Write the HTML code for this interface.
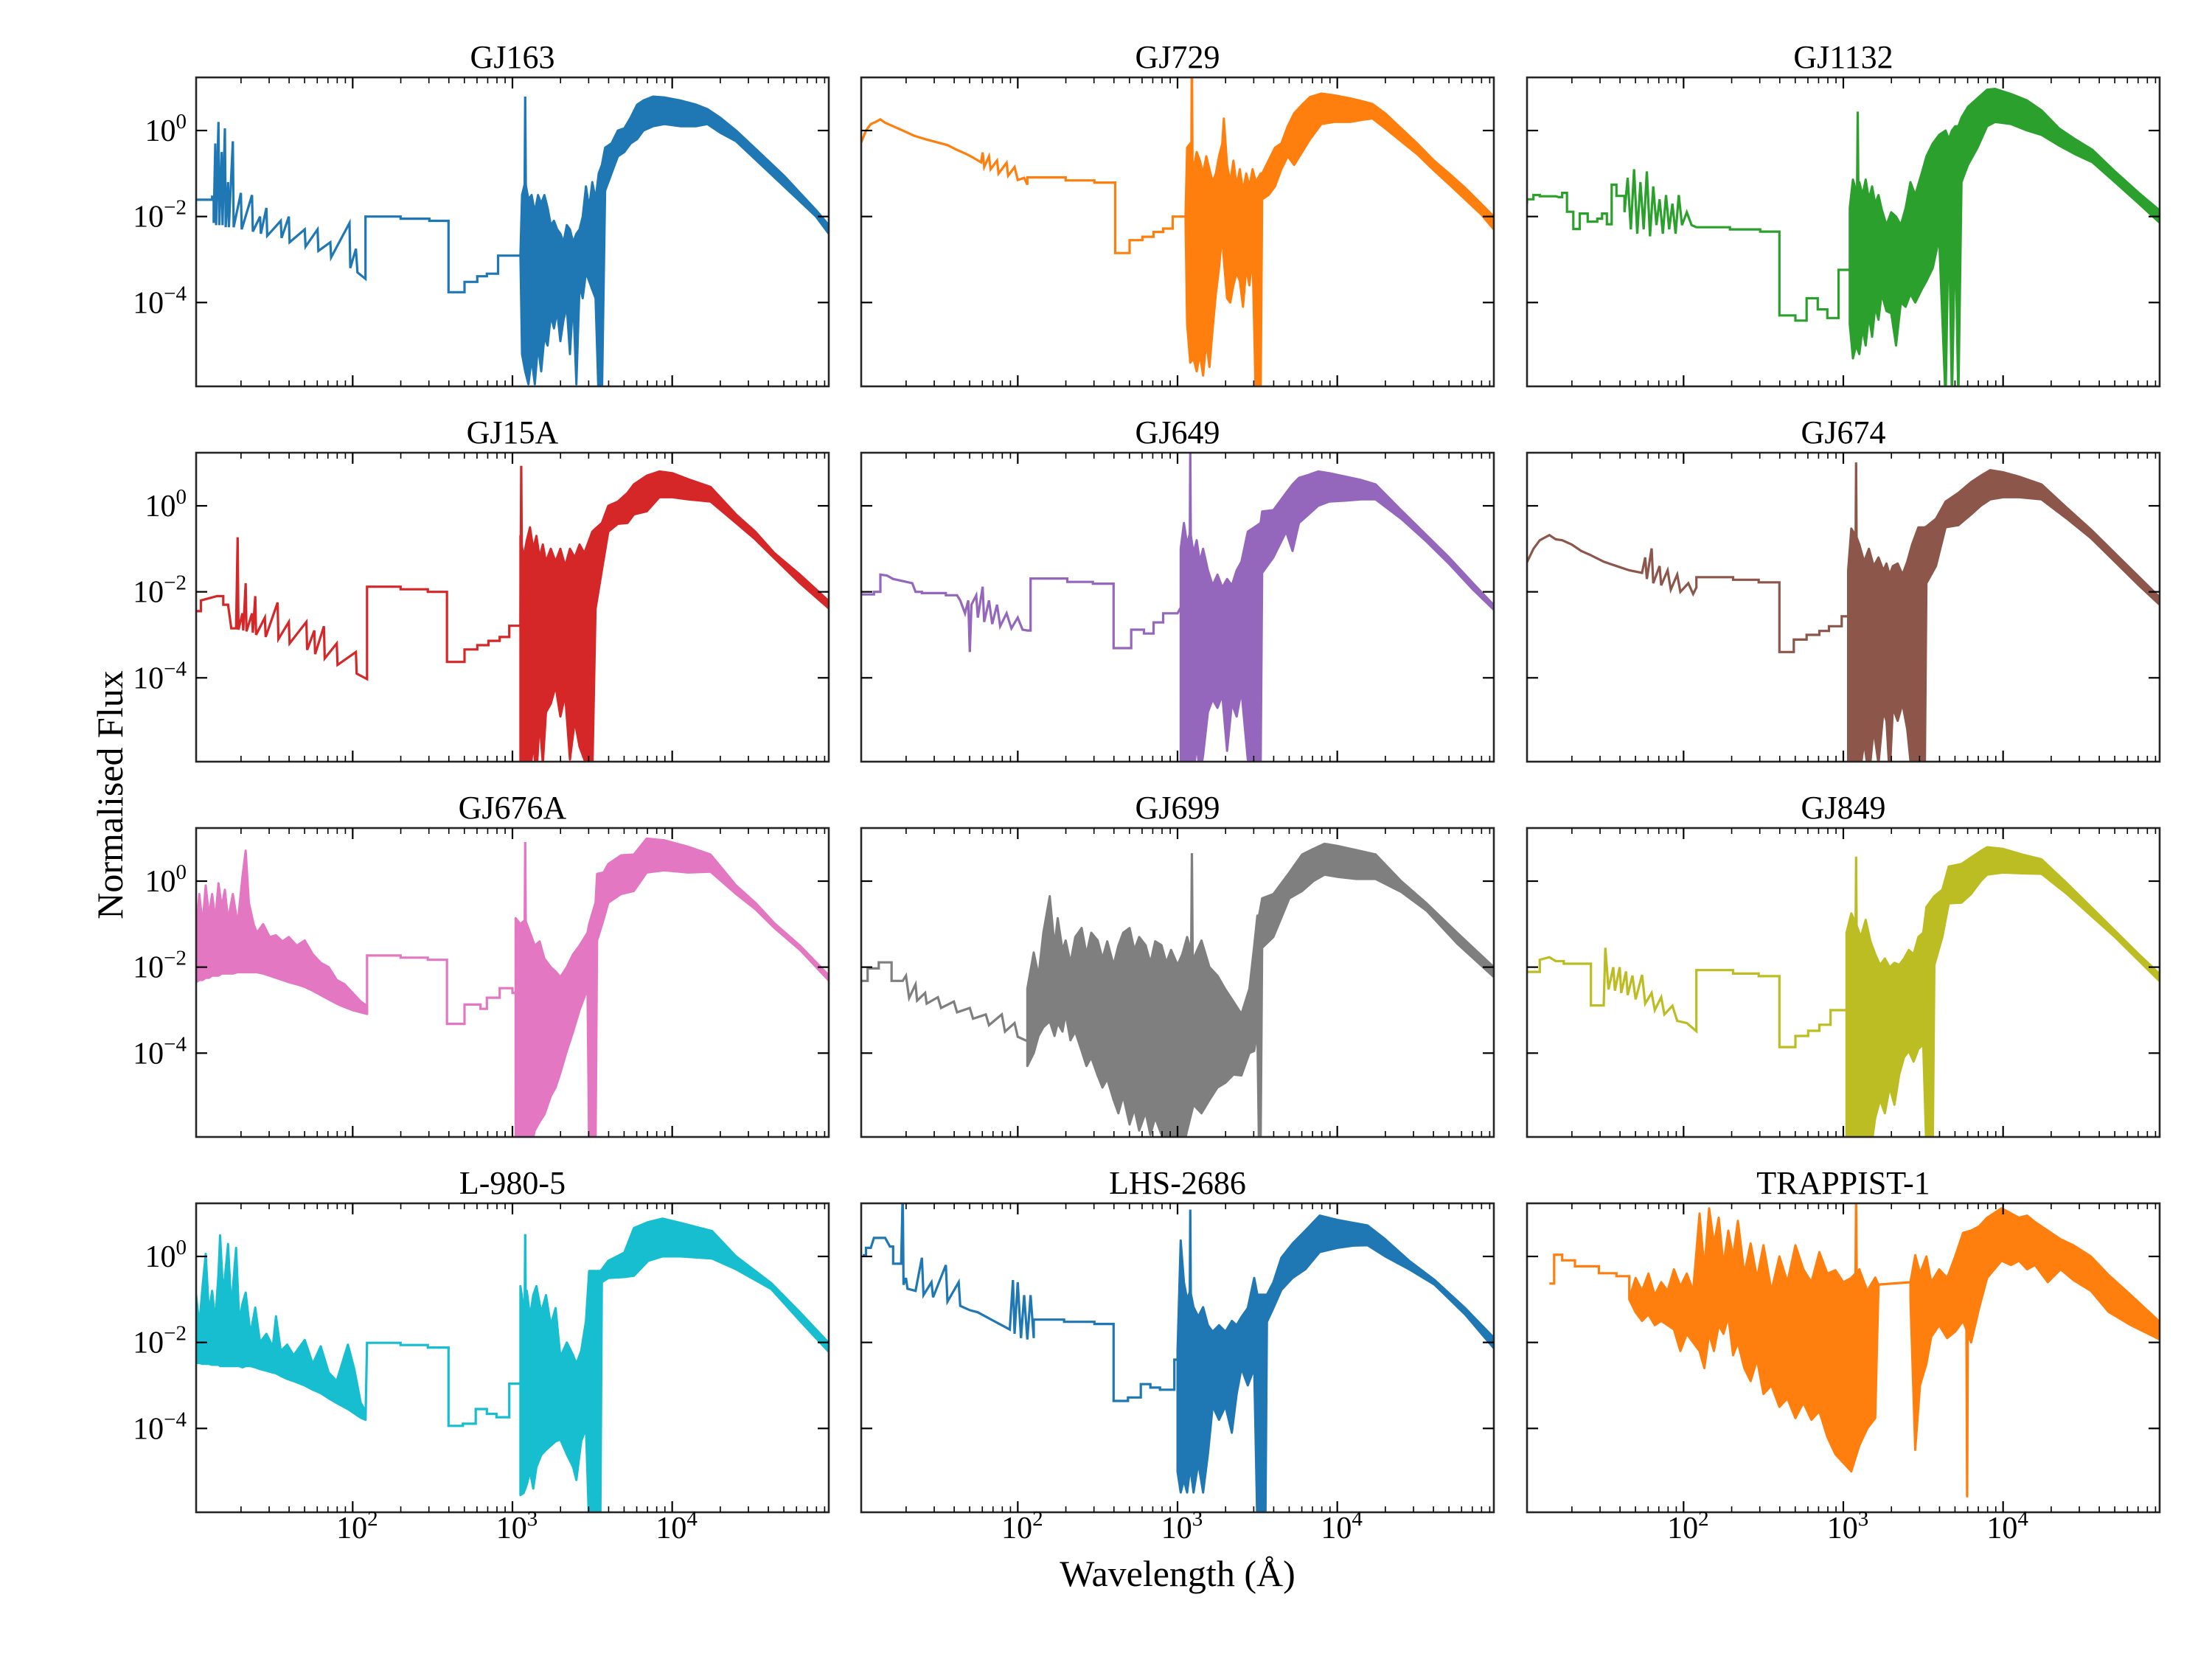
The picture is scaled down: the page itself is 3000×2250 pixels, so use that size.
<!DOCTYPE html>
<html><head><meta charset="utf-8"><title>Normalised stellar spectra</title>
<style>
html,body{margin:0;padding:0;background:#fff;}
svg{display:block;font-family:"Liberation Serif","DejaVu Serif",serif;}
</style></head>
<body>
<svg id="fig" width="3000" height="2250" viewBox="0 0 3000 2250" xmlns="http://www.w3.org/2000/svg">
<rect x="0" y="0" width="3000" height="2250" fill="#fff"/>
<text x="1597" y="2151" font-size="50" text-anchor="middle">Wavelength (Å)</text>
<text x="0" y="0" font-size="50" text-anchor="middle" transform="translate(166,1078) rotate(-90)">Normalised Flux</text>
</svg>
<script>
// ---- data: log10(wavelength / Å), log10(normalised flux) ----
const starNames = ["GJ163","GJ729","GJ1132","GJ15A","GJ649","GJ674","GJ676A","GJ699","GJ849","L-980-5","LHS-2686","TRAPPIST-1"];
const starColors = ["#1f77b4","#ff7f0e","#2ca02c","#d62728","#9467bd","#8c564b","#e377c2","#7f7f7f","#bcbd22","#17becf","#1f77b4","#ff7f0e"];
const xTickLabels = ["2","3","4"];
const yTickLabels = ["0","\u22122","\u22124"];
const yTickValues = [0,-2,-4];
const xTickValues = [2,3,4];

const gj163Line = [[1.02,-1.61],[1.12,-1.61],[1.12,-1.54],[1.13,-1.54],[1.13,-2.15],[1.14,-0.3],[1.145,-2.2],[1.16,0.2],[1.165,-2.2],[1.18,-0.5],[1.185,-2.2],[1.2,0.05],[1.205,-2.25],[1.22,-1.2],[1.225,-2.25],[1.25,-0.25],[1.255,-2.25],[1.3,-1.45],[1.305,-2.3],[1.37,-1.5],[1.375,-2.35],[1.42,-2.0],[1.425,-2.4],[1.46,-1.8],[1.465,-2.45],[1.55,-2.1],[1.555,-2.5],[1.6,-2.0],[1.605,-2.6],[1.7,-2.3],[1.705,-2.7],[1.78,-2.3],[1.785,-2.8],[1.86,-2.6],[1.865,-2.95],[1.98,-2.15],[1.985,-3.2],[2.02,-2.75],[2.03,-3.3],[2.08,-3.45],[2.08,-2.0],[2.3,-2.0],[2.3,-2.05],[2.48,-2.05],[2.48,-2.1],[2.6,-2.1],[2.6,-3.76],[2.7,-3.76],[2.7,-3.52],[2.78,-3.52],[2.78,-3.39],[2.84,-3.39],[2.84,-3.33],[2.91,-3.33],[2.91,-2.91],[3.05,-2.91],[3.075,-2],[3.08,0.79],[3.085,-2]];
const gj163Dense = [[3.05,-2.9,-2.9],[3.06,-1.5,-5.2],[3.08,-1.2,-5.6],[3.1,-1.6,-5.9],[3.12,-1.5,-5.3],[3.14,-1.9,-5.9],[3.16,-1.5,-5.0],[3.18,-1.7,-5.6],[3.2,-1.5,-4.8],[3.22,-1.8,-5.0],[3.24,-2.2,-4.3],[3.26,-2.1,-4.6],[3.28,-2.3,-4.2],[3.3,-2.4,-4.9],[3.32,-2.6,-4.4],[3.34,-2.2,-4.1],[3.36,-2.3,-5.2],[3.38,-2.6,-3.9],[3.4,-2.4,-5.9],[3.42,-2.3,-3.6],[3.44,-2.0,-3.9],[3.46,-1.3,-3.3],[3.48,-1.8,-3.5],[3.5,-1.2,-3.7],[3.52,-1.6,-3.9],[3.54,-1.0,-6.3],[3.56,-0.8,-6.3],[3.58,-0.4,-1.4],[3.62,-0.3,-1.0],[3.66,0.0,-0.6],[3.7,0.05,-0.5],[3.74,0.3,-0.3],[3.78,0.6,-0.2],[3.82,0.7,0.0],[3.88,0.79,0.1],[3.95,0.77,0.15],[4.05,0.7,0.1],[4.15,0.6,0.1],[4.22,0.5,0.15],[4.3,0.3,-0.05],[4.4,0.0,-0.25],[4.5,-0.35,-0.6],[4.6,-0.7,-0.95],[4.7,-1.05,-1.3],[4.8,-1.45,-1.65],[4.9,-1.85,-2.0],[4.98,-2.2,-2.4]];

const gj729Line = [[1.02,-0.28],[1.05,0.0],[1.08,0.15],[1.11,0.2],[1.14,0.26],[1.17,0.18],[1.22,0.1],[1.28,0.0],[1.35,-0.12],[1.42,-0.2],[1.5,-0.28],[1.56,-0.34],[1.62,-0.45],[1.68,-0.55],[1.73,-0.65],[1.77,-0.74],[1.78,-0.51],[1.79,-0.85],[1.82,-0.6],[1.83,-0.9],[1.87,-0.7],[1.88,-1.0],[1.93,-0.75],[1.94,-1.05],[1.98,-0.85],[2.0,-1.15],[2.04,-1.1],[2.06,-1.26],[2.06,-1.09],[2.3,-1.09],[2.3,-1.16],[2.48,-1.16],[2.48,-1.21],[2.61,-1.21],[2.61,-2.85],[2.7,-2.85],[2.7,-2.55],[2.78,-2.55],[2.78,-2.47],[2.85,-2.47],[2.85,-2.36],[2.91,-2.36],[2.91,-2.28],[2.97,-2.28],[2.97,-2.0],[3.05,-2.0],[3.085,-2],[3.09,2],[3.095,-2]];
const gj729Dense = [[3.05,-2.0,-2.0],[3.06,-0.4,-4.5],[3.08,-0.3,-5.4],[3.1,-0.9,-5.3],[3.12,-0.5,-5.6],[3.14,-0.7,-5.2],[3.16,-1.0,-5.7],[3.18,-0.6,-4.9],[3.2,-0.9,-5.5],[3.22,-1.2,-4.6],[3.24,-1.0,-3.8],[3.26,-0.6,-3.2],[3.28,-0.3,-2.4],[3.29,0.28,-3.0],[3.31,-0.8,-3.9],[3.33,-1.2,-4.0],[3.35,-0.7,-3.6],[3.37,-1.3,-3.3],[3.39,-0.9,-3.5],[3.41,-1.4,-4.1],[3.43,-1.0,-3.2],[3.45,-1.3,-3.6],[3.47,-0.9,-2.9],[3.49,-1.2,-6.3],[3.52,-1.0,-6.3],[3.53,-1.0,-1.6],[3.57,-0.7,-1.5],[3.61,-0.4,-1.3],[3.65,-0.3,-0.9],[3.69,0.1,-0.6],[3.73,0.4,-0.8],[3.78,0.6,-0.5],[3.83,0.78,-0.2],[3.9,0.86,0.15],[3.98,0.82,0.2],[4.08,0.75,0.2],[4.16,0.68,0.25],[4.22,0.62,0.28],[4.3,0.4,0.05],[4.4,0.05,-0.25],[4.5,-0.3,-0.55],[4.6,-0.68,-0.91],[4.7,-1.0,-1.25],[4.8,-1.33,-1.6],[4.9,-1.7,-1.95],[4.98,-2.0,-2.3]];

const gj1132Line = [[1.02,-1.7],[1.02,-1.6],[1.06,-1.6],[1.06,-1.5],[1.1,-1.5],[1.1,-1.53],[1.2,-1.53],[1.22,-1.55],[1.24,-1.55],[1.24,-1.45],[1.27,-1.45],[1.27,-1.89],[1.31,-1.89],[1.31,-2.29],[1.35,-2.29],[1.35,-1.93],[1.4,-1.93],[1.4,-2.12],[1.46,-2.12],[1.46,-2.05],[1.49,-2.05],[1.49,-1.93],[1.52,-1.93],[1.52,-2.18],[1.55,-2.18],[1.55,-1.26],[1.58,-1.26],[1.58,-1.52],[1.63,-1.52],[1.63,-1.9],[1.65,-1.1],[1.67,-2.3],[1.69,-0.9],[1.71,-2.4],[1.73,-1.2],[1.75,-2.3],[1.77,-0.95],[1.79,-2.46],[1.81,-1.3],[1.83,-2.2],[1.85,-1.6],[1.87,-2.4],[1.89,-1.5],[1.91,-2.3],[1.93,-1.7],[1.95,-2.4],[1.97,-1.5],[1.99,-2.2],[2.02,-1.9],[2.05,-2.2],[2.08,-2.25],[2.29,-2.25],[2.29,-2.3],[2.48,-2.3],[2.48,-2.35],[2.6,-2.35],[2.6,-4.3],[2.7,-4.3],[2.7,-4.42],[2.77,-4.42],[2.77,-3.9],[2.84,-3.9],[2.84,-4.16],[2.9,-4.16],[2.9,-4.36],[2.97,-4.36],[2.97,-3.24],[3.05,-3.24],[3.085,-2],[3.09,0.44],[3.095,-2]];
const gj1132Dense = [[3.04,-1.8,-4.5],[3.06,-1.14,-5.3],[3.08,-1.4,-5.0],[3.1,-1.2,-5.2],[3.12,-1.5,-4.6],[3.14,-1.14,-5.0],[3.16,-1.6,-4.3],[3.18,-1.3,-4.8],[3.2,-1.7,-4.1],[3.22,-1.5,-4.4],[3.24,-1.83,-3.8],[3.27,-2.2,-4.2],[3.3,-1.9,-4.25],[3.33,-2.0,-5.0],[3.36,-2.2,-4.0],[3.39,-1.8,-4.1],[3.42,-1.2,-3.8],[3.45,-1.5,-4.0],[3.49,-1.0,-3.7],[3.52,-0.6,-3.5],[3.56,-0.3,-3.2],[3.6,-0.1,-2.5],[3.64,0.0,-6.3],[3.66,-0.2,-2.0],[3.68,0.0,-6.3],[3.7,0.1,-2.3],[3.72,0.1,-6.3],[3.74,0.3,-1.2],[3.78,0.55,-0.8],[3.84,0.75,-0.4],[3.9,0.95,0.1],[3.95,0.97,0.2],[4.05,0.85,0.15],[4.15,0.7,0.0],[4.24,0.47,-0.1],[4.35,0.05,-0.35],[4.45,-0.2,-0.55],[4.56,-0.45,-0.74],[4.7,-0.95,-1.2],[4.85,-1.45,-1.7],[4.99,-1.89,-2.18]];

const gj15aLine = [[1.02,-2.45],[1.05,-2.45],[1.05,-2.2],[1.1,-2.15],[1.15,-2.1],[1.19,-2.1],[1.19,-2.3],[1.22,-2.3],[1.24,-2.85],[1.27,-2.85],[1.28,-0.73],[1.285,-2.88],[1.31,-2.5],[1.315,-2.9],[1.33,-1.8],[1.335,-2.92],[1.37,-2.5],[1.375,-2.95],[1.39,-2.1],[1.395,-3.0],[1.45,-2.6],[1.455,-3.05],[1.53,-2.25],[1.535,-3.1],[1.6,-2.7],[1.605,-3.2],[1.71,-2.7],[1.715,-3.35],[1.76,-2.9],[1.765,-3.45],[1.82,-2.8],[1.825,-3.55],[1.9,-3.2],[1.905,-3.7],[2.02,-3.4],[2.025,-3.9],[2.09,-4.03],[2.09,-1.88],[2.3,-1.88],[2.3,-1.94],[2.47,-1.94],[2.47,-2.0],[2.59,-2.0],[2.59,-3.63],[2.7,-3.63],[2.7,-3.34],[2.78,-3.34],[2.78,-3.24],[2.85,-3.24],[2.85,-3.14],[2.92,-3.14],[2.92,-3.05],[2.98,-3.05],[2.98,-2.79],[3.05,-2.79],[3.055,0.93],[3.06,-2]];
const gj15aDense = [[3.05,-0.7,-6.3],[3.07,-1.2,-6.3],[3.09,-0.8,-6.3],[3.11,-0.5,-6.3],[3.13,-1.0,-5.5],[3.15,-0.7,-6.3],[3.17,-1.2,-5.0],[3.19,-0.9,-6.0],[3.21,-1.3,-4.8],[3.24,-1.0,-4.6],[3.27,-1.3,-4.2],[3.3,-1.0,-4.9],[3.33,-1.4,-4.4],[3.36,-1.0,-5.9],[3.39,-1.2,-5.0],[3.42,-0.9,-5.6],[3.45,-1.1,-5.9],[3.49,-0.7,-6.3],[3.5,-0.6,-6.3],[3.52,-0.53,-2.4],[3.56,-0.4,-1.5],[3.6,0.0,-0.6],[3.66,0.1,-0.42],[3.72,0.3,-0.4],[3.76,0.5,-0.2],[3.84,0.7,-0.13],[3.92,0.8,0.2],[4.0,0.76,0.2],[4.1,0.62,0.15],[4.24,0.44,0.1],[4.4,-0.2,-0.4],[4.52,-0.6,-0.78],[4.64,-1.1,-1.22],[4.8,-1.6,-1.8],[4.99,-2.25,-2.42]];

const gj649Line = [[1.02,-2.06],[1.1,-2.06],[1.1,-2.0],[1.14,-2.0],[1.14,-1.6],[1.18,-1.62],[1.22,-1.7],[1.28,-1.75],[1.34,-1.8],[1.36,-2.0],[1.4,-2.0],[1.4,-2.03],[1.55,-2.03],[1.55,-2.08],[1.62,-2.08],[1.64,-2.2],[1.67,-2.5],[1.69,-2.2],[1.7,-3.4],[1.71,-2.3],[1.74,-2.08],[1.75,-2.6],[1.78,-1.88],[1.79,-2.7],[1.82,-2.2],[1.84,-2.75],[1.87,-2.3],[1.89,-2.8],[1.93,-2.5],[1.96,-2.85],[2.0,-2.6],[2.03,-2.88],[2.06,-2.9],[2.08,-2.9],[2.08,-1.69],[2.31,-1.69],[2.31,-1.77],[2.47,-1.77],[2.47,-1.81],[2.6,-1.81],[2.6,-3.31],[2.71,-3.31],[2.71,-2.88],[2.79,-2.88],[2.79,-2.97],[2.85,-2.97],[2.85,-2.71],[2.91,-2.71],[2.91,-2.5],[3.0,-2.5],[3.075,-2],[3.08,1.3],[3.085,-2]];
const gj649Dense = [[3.02,-1.0,-6.3],[3.04,-0.4,-6.3],[3.06,-0.9,-6.3],[3.08,-0.6,-6.3],[3.1,-1.1,-6.3],[3.12,-0.8,-5.5],[3.14,-1.3,-6.3],[3.16,-1.0,-5.8],[3.19,-1.5,-4.8],[3.22,-1.85,-4.5],[3.25,-1.6,-4.7],[3.28,-1.9,-4.4],[3.31,-1.7,-5.7],[3.34,-1.85,-4.6],[3.37,-1.5,-4.9],[3.4,-1.3,-4.3],[3.44,-0.6,-5.9],[3.48,-0.5,-6.3],[3.52,-0.4,-6.3],[3.53,-0.13,-1.56],[3.6,-0.1,-1.2],[3.68,0.3,-0.6],[3.72,0.5,-1.05],[3.76,0.65,-0.4],[3.82,0.72,-0.2],[3.88,0.8,0.0],[3.95,0.76,0.1],[4.05,0.68,0.12],[4.15,0.6,0.15],[4.24,0.5,0.15],[4.4,-0.1,-0.3],[4.55,-0.65,-0.8],[4.7,-1.2,-1.35],[4.85,-1.8,-1.95],[4.98,-2.31,-2.42]];

const gj674Line = [[1.02,-1.31],[1.06,-1.0],[1.1,-0.8],[1.16,-0.68],[1.2,-0.78],[1.24,-0.8],[1.3,-0.9],[1.36,-1.05],[1.42,-1.15],[1.5,-1.3],[1.58,-1.4],[1.66,-1.5],[1.74,-1.56],[1.76,-1.2],[1.77,-1.7],[1.8,-0.99],[1.81,-1.8],[1.85,-1.4],[1.86,-1.85],[1.9,-1.5],[1.92,-1.95],[1.96,-1.6],[1.98,-2.0],[2.03,-1.8],[2.06,-2.05],[2.08,-1.9],[2.08,-1.66],[2.31,-1.66],[2.31,-1.72],[2.47,-1.72],[2.47,-1.78],[2.6,-1.78],[2.6,-3.4],[2.69,-3.4],[2.69,-3.11],[2.77,-3.11],[2.77,-3.0],[2.85,-3.0],[2.85,-2.91],[2.91,-2.91],[2.91,-2.8],[2.99,-2.8],[2.99,-2.57],[3.03,-2.57],[3.075,-2],[3.08,1.01],[3.085,-2]];
const gj674Dense = [[3.03,-1.5,-6.3],[3.05,-0.53,-6.3],[3.08,-0.7,-6.3],[3.1,-0.9,-6.3],[3.13,-1.3,-5.5],[3.16,-1.0,-6.3],[3.19,-1.4,-5.2],[3.22,-1.2,-6.0],[3.25,-1.5,-4.8],[3.27,-1.34,-5.0],[3.29,-1.6,-6.3],[3.31,-1.4,-4.7],[3.34,-1.34,-5.0],[3.37,-1.6,-4.6],[3.4,-1.3,-5.2],[3.43,-0.9,-6.3],[3.47,-0.5,-6.3],[3.51,-0.5,-6.3],[3.52,-0.48,-1.8],[3.58,-0.3,-1.4],[3.64,0.1,-0.5],[3.72,0.3,-0.45],[3.8,0.55,-0.2],[3.86,0.7,0.0],[3.92,0.83,0.15],[4.0,0.78,0.2],[4.1,0.68,0.2],[4.24,0.5,0.15],[4.4,-0.05,-0.3],[4.55,-0.55,-0.75],[4.7,-1.1,-1.3],[4.85,-1.65,-1.85],[5.0,-2.2,-2.37]];

const gj676aLine = [[2.09,-3.09],[2.09,-1.73],[2.3,-1.73],[2.3,-1.78],[2.47,-1.78],[2.47,-1.83],[2.59,-1.83],[2.59,-3.32],[2.7,-3.32],[2.7,-2.87],[2.8,-2.87],[2.8,-2.97],[2.84,-2.97],[2.84,-2.71],[2.92,-2.71],[2.92,-2.49],[3.0,-2.49],[3.0,-2.6],[3.02,-2.6],[3.075,-2],[3.08,0.91],[3.085,-2]];
const gj676aDense = [[1.02,-1.2,-2.35],[1.04,-0.3,-2.3],[1.06,-1.0,-2.3],[1.08,-0.1,-2.25],[1.1,-0.8,-2.25],[1.12,-0.3,-2.2],[1.14,-0.9,-2.2],[1.16,-0.05,-2.2],[1.18,-0.6,-2.15],[1.2,-0.2,-2.15],[1.22,-0.9,-2.15],[1.25,-0.3,-2.15],[1.28,-1.0,-2.12],[1.31,0.1,-2.12],[1.33,0.71,-2.12],[1.35,-0.5,-2.12],[1.38,-1.0,-2.12],[1.4,-1.2,-2.12],[1.44,-1.0,-2.15],[1.48,-1.3,-2.2],[1.52,-1.26,-2.25],[1.56,-1.4,-2.3],[1.6,-1.3,-2.35],[1.65,-1.5,-2.4],[1.7,-1.38,-2.46],[1.75,-1.7,-2.55],[1.8,-1.9,-2.65],[1.85,-2.0,-2.75],[1.9,-2.3,-2.85],[1.95,-2.4,-2.93],[2.0,-2.6,-3.0],[2.05,-2.8,-3.05],[2.09,-2.9,-3.09],null,[3.02,-0.86,-6.3],[3.05,-1.0,-6.3],[3.08,-0.9,-6.3],[3.11,-1.2,-6.3],[3.14,-1.5,-5.8],[3.17,-1.4,-5.6],[3.2,-1.8,-5.43],[3.24,-2.0,-5.0],[3.27,-2.1,-4.8],[3.3,-2.23,-4.46],[3.34,-2.0,-3.95],[3.38,-1.7,-3.5],[3.42,-1.5,-3.0],[3.44,-1.38,-2.8],[3.47,-1.2,-2.5],[3.48,-1.0,-6.3],[3.52,-0.5,-6.3],[3.53,0.17,-1.38],[3.57,0.2,-0.9],[3.6,0.4,-0.5],[3.68,0.6,-0.3],[3.76,0.62,-0.23],[3.84,0.99,0.2],[3.95,0.95,0.25],[4.1,0.8,0.2],[4.24,0.62,0.22],[4.4,-0.1,-0.3],[4.52,-0.5,-0.65],[4.64,-0.98,-1.09],[4.8,-1.5,-1.6],[4.99,-2.23,-2.35]];

const gj699Line = [[1.02,-2.32],[1.06,-2.32],[1.06,-2.03],[1.13,-2.03],[1.13,-1.89],[1.21,-1.89],[1.21,-2.32],[1.28,-2.32],[1.3,-2.2],[1.32,-2.72],[1.36,-2.4],[1.37,-2.78],[1.42,-2.6],[1.43,-2.85],[1.5,-2.7],[1.52,-2.95],[1.6,-2.8],[1.62,-3.05],[1.7,-2.95],[1.72,-3.2],[1.8,-3.1],[1.82,-3.35],[1.9,-3.1],[1.92,-3.5],[1.98,-3.3],[2.0,-3.62],[2.06,-3.72],null,[3.085,-2],[3.09,0.65],[3.095,-2]];
const gj699Dense = [[2.06,-2.5,-4.3],[2.1,-1.66,-4.0],[2.13,-2.2,-3.6],[2.16,-1.2,-3.4],[2.2,-0.35,-3.26],[2.23,-1.5,-3.6],[2.25,-0.86,-3.3],[2.28,-1.6,-3.5],[2.3,-1.38,-3.09],[2.33,-1.9,-3.7],[2.36,-1.3,-3.5],[2.4,-1.09,-3.95],[2.43,-1.7,-4.3],[2.46,-1.2,-4.1],[2.5,-1.38,-4.52],[2.53,-1.8,-4.8],[2.56,-1.4,-4.6],[2.6,-1.95,-5.09],[2.63,-1.5,-5.4],[2.66,-1.2,-5.0],[2.7,-1.09,-5.66],[2.73,-1.6,-5.3],[2.76,-1.3,-5.8],[2.8,-1.49,-5.38],[2.83,-1.9,-5.9],[2.86,-1.4,-5.5],[2.9,-1.49,-5.9],[2.93,-1.9,-6.3],[2.96,-1.6,-6.0],[3.0,-1.95,-6.2],[3.03,-1.7,-6.3],[3.06,-1.3,-5.8],[3.1,-1.8,-5.2],[3.15,-1.38,-5.4],[3.2,-2.0,-5.09],[3.25,-2.2,-4.8],[3.3,-2.52,-4.69],[3.35,-2.8,-4.5],[3.4,-3.09,-4.52],[3.45,-2.5,-4.0],[3.48,-1.5,-3.95],[3.5,-0.8,-3.5],[3.51,-0.8,-6.3],[3.52,-0.6,-6.3],[3.53,-0.4,-1.55],[3.6,-0.3,-1.3],[3.7,0.2,-0.4],[3.78,0.62,-0.23],[3.85,0.75,0.0],[3.92,0.87,0.15],[4.0,0.82,0.1],[4.12,0.72,0.05],[4.24,0.62,0.05],[4.4,0.0,-0.25],[4.56,-0.52,-0.69],[4.75,-1.2,-1.45],[4.98,-2.0,-2.23]];

const gj849Line = [[1.02,-2.11],[1.1,-2.11],[1.1,-1.83],[1.16,-1.77],[1.2,-1.86],[1.25,-1.86],[1.25,-1.92],[1.42,-1.92],[1.42,-2.89],[1.5,-2.89],[1.51,-1.55],[1.53,-2.52],[1.56,-2.0],[1.57,-2.55],[1.6,-2.0],[1.61,-2.6],[1.64,-2.1],[1.65,-2.65],[1.68,-2.2],[1.7,-2.75],[1.74,-2.18],[1.76,-2.85],[1.8,-2.6],[1.82,-3.0],[1.86,-2.7],[1.88,-3.1],[1.93,-2.9],[1.96,-3.25],[2.02,-3.3],[2.08,-3.49],[2.08,-2.07],[2.31,-2.07],[2.31,-2.15],[2.47,-2.15],[2.47,-2.21],[2.6,-2.21],[2.6,-3.86],[2.7,-3.86],[2.7,-3.6],[2.78,-3.6],[2.78,-3.48],[2.85,-3.48],[2.85,-3.34],[2.92,-3.34],[2.92,-3.0],[3.02,-3.0],[3.075,-2],[3.08,0.57],[3.085,-2]];
const gj849Dense = [[3.02,-1.2,-6.3],[3.05,-0.75,-6.3],[3.08,-1.0,-6.3],[3.11,-1.3,-6.3],[3.14,-0.9,-6.3],[3.17,-1.4,-6.3],[3.2,-1.7,-5.5],[3.23,-1.95,-5.09],[3.26,-1.8,-5.4],[3.29,-2.0,-4.8],[3.32,-1.9,-5.2],[3.35,-1.95,-4.5],[3.38,-1.8,-4.1],[3.41,-1.6,-3.95],[3.44,-1.7,-4.2],[3.47,-1.3,-3.9],[3.5,-1.2,-3.8],[3.52,-0.6,-6.3],[3.56,-0.4,-6.3],[3.57,-0.35,-1.95],[3.62,-0.2,-1.3],[3.66,0.34,-0.52],[3.74,0.4,-0.5],[3.8,0.55,-0.3],[3.86,0.7,0.0],[3.9,0.79,0.15],[4.0,0.75,0.2],[4.12,0.62,0.18],[4.24,0.51,0.17],[4.4,-0.05,-0.3],[4.55,-0.6,-0.8],[4.7,-1.15,-1.3],[4.85,-1.7,-1.85],[5.0,-2.23,-2.4]];

const l9805Line = [[2.08,-3.8],[2.09,-2.01],[2.3,-2.01],[2.3,-2.06],[2.47,-2.06],[2.47,-2.12],[2.6,-2.12],[2.6,-3.94],[2.69,-3.94],[2.69,-3.89],[2.77,-3.89],[2.77,-3.55],[2.84,-3.55],[2.84,-3.66],[2.9,-3.66],[2.9,-3.74],[2.98,-3.74],[2.98,-2.96],[3.05,-2.96],[3.075,-2],[3.08,0.52],[3.085,-2]];
const l9805Dense = [[1.02,-0.9,-2.48],[1.04,-1.6,-2.48],[1.06,-0.7,-2.5],[1.08,0.06,-2.5],[1.1,-1.3,-2.5],[1.12,-0.8,-2.52],[1.14,-1.5,-2.52],[1.16,-0.4,-2.52],[1.17,0.49,-2.55],[1.19,-0.9,-2.55],[1.22,0.29,-2.55],[1.24,-1.2,-2.55],[1.27,0.2,-2.55],[1.29,-1.5,-2.55],[1.31,-1.1,-2.58],[1.33,-0.84,-2.55],[1.36,-1.8,-2.55],[1.39,-1.19,-2.58],[1.42,-2.0,-2.62],[1.46,-1.8,-2.66],[1.5,-2.1,-2.7],[1.52,-1.39,-2.72],[1.55,-2.2,-2.78],[1.59,-2.05,-2.85],[1.63,-2.3,-2.9],[1.7,-1.94,-3.0],[1.75,-2.5,-3.1],[1.8,-2.09,-3.18],[1.85,-2.7,-3.3],[1.9,-2.9,-3.41],[1.97,-2.05,-3.55],[2.01,-2.62,-3.65],[2.05,-3.4,-3.75],[2.08,-3.6,-3.8],null,[3.05,-0.69,-5.55],[3.07,-1.2,-5.5],[3.09,-0.8,-5.3],[3.11,-1.4,-5.0],[3.13,-0.9,-5.4],[3.15,-0.69,-4.9],[3.18,-1.3,-4.62],[3.21,-0.9,-4.5],[3.24,-1.6,-4.4],[3.27,-1.2,-4.3],[3.3,-2.34,-4.26],[3.34,-2.0,-4.6],[3.38,-2.3,-4.9],[3.4,-2.5,-5.2],[3.43,-2.2,-4.3],[3.46,-1.5,-4.0],[3.48,-0.34,-6.3],[3.55,-0.34,-6.3],[3.56,-0.3,-0.6],[3.6,-0.1,-0.5],[3.7,0.09,-0.48],[3.76,0.66,-0.45],[3.85,0.8,-0.1],[3.94,0.88,0.0],[4.05,0.78,0.0],[4.25,0.59,-0.05],[4.4,0.0,-0.3],[4.62,-0.62,-0.76],[4.8,-1.3,-1.5],[5.0,-2.09,-2.3]];

const lhs2686Line = [[1.03,0.03],[1.05,0.03],[1.05,0.2],[1.08,0.2],[1.1,0.43],[1.17,0.43],[1.2,0.23],[1.22,0.23],[1.22,-0.17],[1.27,-0.17],[1.28,1.5],[1.285,-0.66],[1.3,-0.5],[1.31,-0.75],[1.36,-0.8],[1.4,-0.03],[1.41,-0.9],[1.46,-0.6],[1.47,-0.95],[1.55,-0.2],[1.56,-1.05],[1.63,-0.6],[1.64,-1.15],[1.7,-1.25],[1.75,-1.3],[1.8,-1.4],[1.85,-1.5],[1.9,-1.6],[1.95,-1.7],[1.97,-0.55],[1.98,-1.8],[2.0,-0.6],[2.02,-1.9],[2.04,-0.9],[2.06,-1.93],[2.08,-0.9],[2.1,-1.9],[2.1,-1.47],[2.29,-1.47],[2.29,-1.52],[2.48,-1.52],[2.48,-1.57],[2.6,-1.57],[2.6,-3.36],[2.69,-3.36],[2.69,-3.28],[2.77,-3.28],[2.77,-2.97],[2.83,-2.97],[2.83,-3.05],[2.89,-3.05],[2.89,-3.1],[2.98,-3.1],[2.98,-2.4],[3.0,-2.4],[3.075,-2],[3.08,1.09],[3.085,-2]];
const lhs2686Dense = [[3.0,-2.2,-5.0],[3.02,0.37,-5.49],[3.04,-0.6,-5.2],[3.06,-1.0,-5.49],[3.08,-0.8,-4.9],[3.1,-1.18,-5.49],[3.13,-1.4,-4.8],[3.16,-1.18,-5.49],[3.19,-1.6,-4.6],[3.22,-1.75,-3.48],[3.26,-1.6,-3.8],[3.3,-1.75,-3.48],[3.34,-1.5,-4.1],[3.37,-1.6,-3.2],[3.4,-1.41,-2.6],[3.44,-1.2,-3.0],[3.48,-0.5,-2.6],[3.5,-0.89,-6.3],[3.55,-0.89,-6.3],[3.56,-0.89,-1.52],[3.6,-0.6,-1.2],[3.65,-0.03,-0.78],[3.72,0.3,-0.5],[3.8,0.6,-0.3],[3.89,0.95,0.1],[4.0,0.85,0.2],[4.1,0.78,0.25],[4.19,0.72,0.26],[4.3,0.4,0.0],[4.45,-0.1,-0.3],[4.61,-0.55,-0.66],[4.8,-1.2,-1.35],[4.99,-1.93,-2.18]];

const trappist1Line = [[1.16,-0.63],[1.19,-0.63],[1.19,0.04],[1.24,0.04],[1.24,-0.09],[1.32,-0.09],[1.32,-0.23],[1.47,-0.23],[1.47,-0.39],[1.58,-0.39],[1.58,-0.46],[1.66,-0.46],[1.66,-0.98],null,[3.075,-1],[3.08,1.5],[3.085,-1],null,[3.2,-0.66],[3.42,-0.6],null,[3.77,-1],[3.775,-5.6],[3.78,-1]];
const trappist1Dense = [[1.66,-0.98,-1.0],[1.7,-0.5,-1.3],[1.74,-0.8,-1.5],[1.78,-0.4,-1.35],[1.82,-0.9,-1.6],[1.86,-0.6,-1.5],[1.9,-0.8,-1.6],[1.94,-0.3,-1.7],[1.98,-0.7,-2.2],[2.02,-0.4,-1.8],[2.06,-0.8,-2.0],[2.1,1.0,-2.2],[2.13,-0.3,-2.6],[2.16,1.12,-1.8],[2.19,0.3,-2.2],[2.22,0.9,-1.6],[2.25,-0.2,-1.8],[2.28,0.6,-1.4],[2.31,0.0,-2.3],[2.34,0.83,-2.0],[2.38,-0.4,-2.6],[2.42,0.3,-2.9],[2.46,-0.5,-2.4],[2.5,0.26,-3.2],[2.55,-0.8,-3.0],[2.6,0.0,-3.5],[2.65,-0.6,-3.3],[2.7,0.26,-3.76],[2.75,-0.3,-3.4],[2.8,-0.6,-3.8],[2.85,0.1,-3.6],[2.9,-0.4,-4.2],[2.95,-0.32,-4.6],[3.0,-0.6,-4.8],[3.05,-0.5,-5.0],[3.1,-0.3,-4.4],[3.15,-0.8,-4.0],[3.2,-0.49,-3.76],[3.22,-0.66,-0.7],null,[3.42,-0.6,-1.0],[3.45,0.03,-4.5],[3.48,-0.4,-3.0],[3.52,0.0,-2.5],[3.55,-0.6,-1.87],[3.6,-0.3,-1.6],[3.65,-0.5,-1.9],[3.7,0.0,-1.75],[3.75,0.55,-1.5],[3.8,0.6,-2.0],[3.85,0.7,-1.2],[3.9,0.9,-0.5],[3.99,1.12,-0.1],[4.05,1.0,-0.2],[4.1,0.9,-0.1],[4.15,0.95,-0.3],[4.2,0.8,-0.2],[4.28,0.6,-0.6],[4.36,0.4,-0.3],[4.44,0.26,-0.55],[4.55,0.0,-0.8],[4.66,-0.43,-1.29],[4.8,-0.9,-1.6],[4.98,-1.52,-1.93]];

const starLines = [gj163Line,gj729Line,gj1132Line,gj15aLine,gj649Line,gj674Line,gj676aLine,gj699Line,gj849Line,l9805Line,lhs2686Line,trappist1Line];
const starDense = [gj163Dense,gj729Dense,gj1132Dense,gj15aDense,gj649Dense,gj674Dense,gj676aDense,gj699Dense,gj849Dense,l9805Dense,lhs2686Dense,trappist1Dense];

// ---- layout ----
const NS = "http://www.w3.org/2000/svg";
const svg = document.getElementById("fig");
const X_MIN = 1.02, X_MAX = 4.98, Y_MIN = -5.95, Y_MAX = 1.235;
const PW = 858, PH = 419;
const colX = [266, 1168, 2071];
const rowY = [105, 614, 1123, 1632];

function mk(tag, attrs, parent) {
  const e = document.createElementNS(NS, tag);
  for (const k in attrs) e.setAttribute(k, attrs[k]);
  parent.appendChild(e);
  return e;
}
function slug(s){ return s.toLowerCase().replace(/[^a-z0-9]+/g,'-'); }

starNames.forEach((name, i) => {
  const c = i % 3, r = Math.floor(i / 3);
  const x0 = colX[c], y0 = rowY[r];
  const sx = v => x0 + (v - X_MIN) / (X_MAX - X_MIN) * PW;
  const sy = v => y0 + (Y_MAX - v) / (Y_MAX - Y_MIN) * PH;
  const g = mk("g", {}, svg);
  
  

  const cp = mk("clipPath", {id: "clip" + i}, g);
  mk("rect", {x: x0, y: y0, width: PW, height: PH}, cp);

  const title = mk("text", {x: x0 + PW / 2, y: y0 - 13, "font-size": 44, "text-anchor": "middle"}, g);
  title.textContent = name;
  
  

  const series = mk("g", {"clip-path": "url(#clip" + i + ")"}, g);
  
  
  const col = starColors[i];

  let seg = [];
  const segs = [];
  starDense[i].forEach(p => { if (p === null) { if (seg.length) segs.push(seg); seg = []; } else seg.push(p); });
  if (seg.length) segs.push(seg);
  segs.forEach(s => {
    const up = s.map(p => sx(p[0]).toFixed(1) + "," + sy(p[1]).toFixed(1));
    const lo = s.slice().reverse().map(p => sx(p[0]).toFixed(1) + "," + sy(Math.max(p[2], -6.4)).toFixed(1));
    const poly = mk("polygon", {points: up.concat(lo).join(" "), fill: col, stroke: col, "stroke-width": 3, "stroke-linejoin": "round"}, series);
    
    
  });

  let part = [];
  const parts = [];
  starLines[i].forEach(p => { if (p === null) { if (part.length) parts.push(part); part = []; } else part.push(p); });
  if (part.length) parts.push(part);
  parts.forEach(s => {
    const pl = mk("polyline", {points: s.map(p => sx(p[0]).toFixed(1) + "," + sy(p[1]).toFixed(1)).join(" "), fill: "none", stroke: col, "stroke-width": 3.2, "stroke-linejoin": "miter"}, series);
    
    
  });

  const fr = mk("rect", {x: x0, y: y0, width: PW, height: PH, fill: "none", stroke: "#262626", "stroke-width": 2.6}, g);
  
  

  const ticks = mk("g", {stroke: "#000"}, g);
  
  
  for (let d = 1; d <= 4; d++) {
    for (let m = 1; m <= 9; m++) {
      const v = d + Math.log10(m);
      if (v < X_MIN || v > X_MAX) continue;
      const major = m === 1;
      const len = major ? 15 : 8;
      const xx = sx(v);
      mk("line", {x1: xx, x2: xx, y1: y0 + PH, y2: y0 + PH - len, "stroke-width": major ? 2.2 : 1.6}, ticks);
      mk("line", {x1: xx, x2: xx, y1: y0, y2: y0 + len, "stroke-width": major ? 2.2 : 1.6}, ticks);
    }
  }
  yTickValues.forEach((v, k) => {
    const yy = sy(v);
    mk("line", {x1: x0, x2: x0 + 15, y1: yy, y2: yy, "stroke-width": 2.2}, ticks);
    mk("line", {x1: x0 + PW, x2: x0 + PW - 15, y1: yy, y2: yy, "stroke-width": 2.2}, ticks);
    if (c === 0) {
      const t = mk("text", {x: x0 - 13, y: yy + 14, "font-size": 42, "text-anchor": "end"}, g);
      
      
      const base = document.createElementNS(NS, "tspan"); base.textContent = "10"; t.appendChild(base);
      const sup = document.createElementNS(NS, "tspan");
      sup.setAttribute("dy", -17); sup.setAttribute("font-size", 29);
      sup.textContent = yTickLabels[k]; t.appendChild(sup);
    }
  });
  if (r === 3) {
    xTickValues.forEach((v, k) => {
      const xx = sx(v);
      const t = mk("text", {x: xx + 6, y: 2086, "font-size": 42, "text-anchor": "middle"}, g);
      
      
      const base = document.createElementNS(NS, "tspan"); base.textContent = "10"; t.appendChild(base);
      const sup = document.createElementNS(NS, "tspan");
      sup.setAttribute("dy", -17); sup.setAttribute("font-size", 29);
      sup.textContent = xTickLabels[k]; t.appendChild(sup);
    });
  }
});
</script>
</body></html>
